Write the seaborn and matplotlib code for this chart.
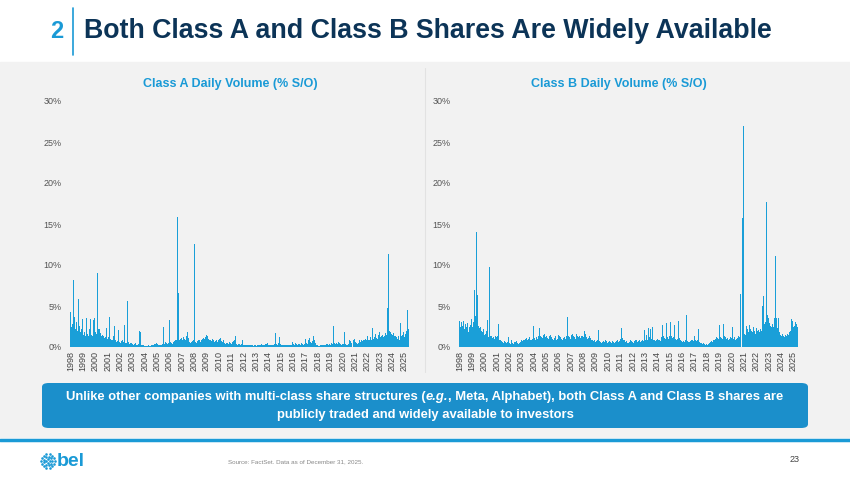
import numpy as np
import pandas as pd
import seaborn as sns
import matplotlib.pyplot as plt
from matplotlib.patches import Rectangle, FancyBboxPatch

# monthly peak daily volume, % of shares outstanding, Jan 1998 .. Dec 2025
years = [str(y) for y in range(1998, 2026)]

class_a = [
    4.3, 2.5, 2.8, 8.2, 3.7, 2.2, 3.0, 2.0, 5.8, 2.6, 1.8, 2.2,   # 1998
    3.4, 1.5, 1.8, 1.4, 3.5, 1.6, 1.3, 2.2, 3.4, 1.5, 1.4, 3.3,   # 1999
    3.5, 1.8, 1.6, 9.0, 2.2, 2.2, 1.7, 1.4, 1.5, 1.3, 1.1, 1.2,   # 2000
    2.3, 1.0, 1.2, 3.6, 1.0, 0.9, 0.8, 1.4, 2.6, 0.8, 0.6, 0.7,   # 2001
    2.1, 0.6, 0.5, 0.7, 0.8, 0.6, 2.7, 0.5, 5.6, 0.6, 0.4, 0.5,   # 2002
    0.5, 0.4, 0.3, 0.4, 0.5, 0.3, 0.3, 0.4, 1.9, 1.8, 0.3, 0.2,   # 2003
    0.2, 0.1, 0.1, 0.1, 0.1, 0.2, 0.1, 0.1, 0.2, 0.2, 0.3, 0.4,   # 2004
    0.4, 0.5, 0.4, 0.3, 0.2, 0.2, 0.3, 0.4, 2.4, 0.4, 0.6, 0.5,   # 2005
    0.4, 0.5, 3.3, 0.6, 0.5, 0.4, 0.6, 0.7, 0.9, 0.8, 15.8, 6.6,  # 2006
    0.8, 1.0, 1.1, 0.9, 1.2, 1.0, 0.9, 1.3, 1.8, 1.1, 0.6, 0.5,   # 2007
    0.6, 0.7, 0.8, 12.6, 0.6, 0.5, 0.7, 0.8, 0.9, 0.6, 0.8, 1.0,  # 2008
    1.1, 1.0, 1.2, 1.5, 1.3, 1.0, 0.9, 0.8, 0.7, 1.0, 0.8, 0.6,   # 2009
    0.7, 0.9, 0.6, 0.8, 1.0, 1.1, 0.7, 0.6, 0.8, 0.5, 0.4, 0.5,   # 2010
    0.5, 0.4, 0.6, 0.5, 0.4, 0.6, 0.7, 0.9, 1.3, 0.4, 0.3, 0.4,   # 2011
    0.3, 0.4, 0.8, 0.3, 0.2, 0.3, 0.2, 0.2, 0.3, 0.2, 0.2, 0.2,   # 2012
    0.2, 0.1, 0.2, 0.2, 0.1, 0.2, 0.2, 0.3, 0.3, 0.4, 0.3, 0.2,   # 2013
    0.3, 0.4, 0.4, 0.5, 0.3, 0.2, 0.2, 0.3, 0.2, 0.3, 0.4, 1.7,   # 2014
    0.4, 0.3, 0.5, 1.2, 0.4, 0.3, 0.2, 0.2, 0.2, 0.2, 0.3, 0.3,   # 2015
    0.3, 0.2, 0.2, 0.3, 0.6, 0.4, 0.3, 0.5, 0.4, 0.3, 0.4, 0.4,   # 2016
    0.3, 0.5, 0.4, 0.3, 0.4, 1.0, 0.5, 0.4, 0.9, 1.1, 0.6, 0.5,   # 2017
    0.7, 1.4, 0.8, 0.5, 0.3, 0.2, 0.1, 0.1, 0.2, 0.3, 0.2, 0.2,   # 2018
    0.3, 0.3, 0.4, 0.4, 0.3, 0.4, 0.3, 0.5, 0.4, 2.6, 0.5, 0.4,   # 2019
    0.5, 0.4, 0.6, 0.5, 0.4, 0.3, 0.4, 0.4, 1.8, 0.4, 0.3, 0.3,   # 2020
    0.4, 0.9, 0.7, 0.5, 0.8, 1.0, 0.6, 0.5, 0.4, 0.5, 0.8, 0.6,   # 2021
    0.8, 0.7, 0.9, 0.8, 1.0, 0.9, 1.4, 0.8, 0.9, 1.2, 0.9, 2.3,   # 2022
    1.0, 1.2, 1.6, 1.1, 1.0, 1.5, 1.8, 1.2, 1.3, 1.5, 1.2, 1.4,   # 2023
    1.7, 1.5, 4.7, 11.4, 2.0, 1.8, 1.6, 1.5, 1.7, 1.4, 1.3, 1.2,  # 2024
    1.0, 1.4, 0.8, 2.9, 1.3, 1.5, 1.8, 1.2, 1.6, 2.0, 4.5, 2.2,   # 2025
]

class_b = [
    3.2, 2.4, 3.1, 2.6, 3.2, 2.2, 2.8, 2.5, 2.9, 1.8, 2.4, 2.7,   # 1998
    3.4, 2.5, 3.0, 7.0, 3.8, 14.0, 6.3, 2.6, 2.3, 2.4, 2.0, 1.8,  # 1999
    2.2, 1.5, 1.6, 2.0, 3.3, 1.2, 9.7, 1.4, 1.3, 1.1, 1.2, 1.0,   # 2000
    1.4, 1.2, 1.3, 2.8, 0.9, 0.8, 0.7, 0.6, 0.5, 0.7, 0.6, 0.5,   # 2001
    0.6, 1.2, 0.5, 0.4, 0.8, 0.5, 0.4, 0.6, 0.7, 0.5, 0.4, 0.5,   # 2002
    0.6, 0.8, 0.7, 0.9, 0.8, 1.0, 1.1, 0.9, 1.0, 1.2, 0.8, 0.9,   # 2003
    1.0, 2.6, 1.1, 0.9, 1.2, 1.0, 1.3, 2.3, 1.4, 1.2, 1.1, 1.5,   # 2004
    1.6, 1.2, 1.4, 1.1, 1.0, 1.3, 1.5, 1.2, 1.0, 0.8, 1.1, 1.3,   # 2005
    0.9, 1.0, 1.5, 1.3, 1.2, 1.0, 0.9, 1.1, 1.2, 1.0, 1.4, 3.7,   # 2006
    1.4, 1.2, 1.0, 1.5, 1.6, 1.3, 1.2, 1.0, 1.6, 1.4, 1.2, 1.3,   # 2007
    1.1, 1.3, 1.4, 1.2, 2.0, 1.6, 1.2, 1.0, 1.1, 1.3, 1.1, 0.9,   # 2008
    0.8, 0.7, 0.9, 0.6, 0.7, 0.8, 2.1, 0.7, 0.6, 0.5, 0.6, 0.7,   # 2009
    0.6, 0.8, 0.7, 0.5, 0.6, 0.7, 0.6, 0.5, 0.7, 0.6, 0.5, 0.6,   # 2010
    0.7, 0.8, 0.6, 0.7, 1.0, 2.3, 1.1, 0.9, 0.8, 0.6, 0.7, 0.5,   # 2011
    0.6, 0.8, 0.7, 0.6, 0.5, 0.7, 0.9, 0.8, 0.6, 0.7, 0.8, 0.6,   # 2012
    0.7, 0.8, 0.7, 2.1, 0.9, 1.5, 0.8, 2.3, 1.2, 2.2, 1.0, 2.5,   # 2013
    0.9, 0.8, 0.7, 0.8, 1.0, 0.9, 0.8, 0.7, 1.2, 2.7, 1.3, 1.1,   # 2014
    1.0, 2.9, 1.2, 1.0, 1.4, 3.1, 1.3, 1.1, 1.2, 2.7, 1.0, 0.9,   # 2015
    1.0, 3.2, 1.1, 0.8, 0.7, 0.6, 0.7, 0.6, 0.8, 3.9, 0.7, 0.6,   # 2016
    0.6, 0.7, 0.8, 0.9, 0.7, 1.4, 0.8, 0.7, 0.9, 2.2, 0.6, 0.5,   # 2017
    0.5, 0.4, 0.5, 0.4, 0.3, 0.4, 0.3, 0.4, 0.5, 0.6, 0.7, 0.6,   # 2018
    0.8, 0.9, 1.0, 1.2, 1.1, 1.0, 2.7, 1.2, 1.1, 1.0, 2.8, 1.3,   # 2019
    1.2, 1.0, 1.1, 0.9, 1.0, 1.2, 1.1, 2.4, 1.0, 1.2, 0.9, 1.0,   # 2020
    1.1, 1.3, 1.2, 6.5, 15.7, 27.0, 1.6, 1.5, 2.6, 2.2, 1.8, 2.7, # 2021
    2.2, 2.0, 1.8, 2.5, 2.0, 1.6, 2.3, 1.9, 2.1, 1.8, 2.2, 2.0,   # 2022
    5.0, 6.2, 2.8, 3.0, 17.7, 3.9, 3.5, 2.9, 2.6, 2.4, 2.8, 2.5,  # 2023
    3.5, 11.1, 3.5, 2.3, 3.5, 1.8, 1.5, 1.3, 1.6, 1.4, 1.2, 1.5,  # 2024
    1.4, 1.6, 1.5, 1.8, 2.0, 3.4, 3.2, 2.4, 2.6, 3.0, 2.8, 2.5,   # 2025
]

bar_color = '#1a9fd8'
navy = '#0c3457'
light_blue = '#1a9ad6'
panel = '#f2f2f2'

sns.set_theme(style='white')
plt.rcParams['font.family'] = ['Liberation Sans', 'DejaVu Sans']

fig = plt.figure(figsize=(8.5, 4.8), dpi=100)
fig.patch.set_facecolor('white')

# grey content panel (behind the axes)
fig.patches.append(Rectangle((0, 1 - 437 / 480), 1, (437 - 62) / 480,
                             transform=fig.transFigure, color=panel, zorder=-5))
# divider between the two charts
fig.add_artist(plt.Line2D([425 / 850, 425 / 850], [1 - 372 / 480, 1 - 68 / 480],
                          transform=fig.transFigure, color='#e2e2e2', lw=0.8, zorder=-4))

# slide header
fig.text(50 / 850, 1 - 32 / 480, '2', color=light_blue, fontsize=17, fontweight='bold',
         va='center', ha='left')
fig.add_artist(plt.Line2D([73 / 850, 73 / 850], [1 - 8 / 480, 1 - 55 / 480],
                          transform=fig.transFigure, color=light_blue, lw=1.2))
fig.text(84 / 850, 1 - 31 / 480, 'Both Class A and Class B Shares Are Widely Available',
         color=navy, fontsize=19.3, fontweight='bold', va='center', ha='left')

month = np.arange(len(class_a))
charts = [
    (class_a, 'Class A Daily Volume (% S/O)', 70),
    (class_b, 'Class B Daily Volume (% S/O)', 459),
]

for values, title, left_px in charts:
    ax = fig.add_axes([left_px / 850, 1 - 347 / 480, 339 / 850, (347 - 101) / 480])
    ax.set_facecolor('none')
    df = pd.DataFrame({'month': month, 'pct': values})
    sns.barplot(data=df, x='month', y='pct', color=bar_color, saturation=1,
                width=1.0, linewidth=0, ax=ax)
    ax.set_xlim(-0.5, len(values) - 0.5)
    ax.set_ylim(0, 30)
    ax.set_yticks([0, 5, 10, 15, 20, 25, 30])
    ax.set_yticklabels([f'{v}%' for v in [0, 5, 10, 15, 20, 25, 30]],
                       fontsize=6.5, color='#555555')
    ax.set_xticks(np.linspace(0, 331, len(years)))
    ax.set_xticklabels(years, rotation=90, fontsize=6.5, color='#444444')
    ax.tick_params(axis='both', length=0)
    ax.tick_params(axis='y', pad=6)
    ax.tick_params(axis='x', pad=3)
    ax.set_xlabel('')
    ax.set_ylabel('')
    for s in ax.spines.values():
        s.set_visible(False)
    fig.text((left_px + 160) / 850, 1 - 84 / 480, title, color=light_blue,
             fontsize=9, fontweight='bold', ha='center', va='center')

# callout box
box = FancyBboxPatch((42 / 850, 1 - 428 / 480), (808 - 42) / 850, 45 / 480,
                     boxstyle='round,pad=0,rounding_size=0.008',
                     transform=fig.transFigure, facecolor='#1b8fcb', edgecolor='none')
fig.patches.append(box)

# first callout line is built from three pieces so "e.g." can be italic
renderer = fig.canvas.get_renderer()
style = dict(color='white', fontsize=9.4, fontweight='bold', va='center', ha='left')
pieces = [
    ('Unlike other companies with multi-class share structures (', 'normal'),
    ('e.g.', 'italic'),
    (', Meta, Alphabet), both Class A and Class B shares are', 'normal'),
]
y1 = 1 - 397 / 480
texts = [fig.text(0, y1, s, fontstyle=st, **style) for s, st in pieces]
widths = [t.get_window_extent(renderer).width for t in texts]
x = (425 - sum(widths) / 2) / 850
for t, w in zip(texts, widths):
    t.set_x(x)
    x += w / 850
fig.text(425 / 850, 1 - 415 / 480, 'publicly traded and widely available to investors',
         color='white', fontsize=9.4, fontweight='bold', ha='center', va='center')

# footer
fig.add_artist(plt.Line2D([0, 1], [1 - 440 / 480, 1 - 440 / 480],
                          transform=fig.transFigure, color=light_blue, lw=2.5))
icon = fig.add_axes([40 / 850, 1 - 469 / 480, 16 / 850, 16 / 480])
icon.set_aspect('equal')
icon.axis('off')
for r, n in [(0.95, 14), (0.6, 9), (0.25, 4)]:
    ang = np.linspace(0, 2 * np.pi, n, endpoint=False)
    icon.scatter(r * np.cos(ang), r * np.sin(ang), s=3.5, color=light_blue, linewidths=0)
icon.set_xlim(-1.1, 1.1)
icon.set_ylim(-1.1, 1.1)
fig.text(57 / 850, 1 - 461 / 480, 'bel', color=light_blue, fontsize=14,
         fontweight='bold', ha='left', va='center')
fig.text(228 / 850, 1 - 462 / 480, 'Source: FactSet. Data as of December 31, 2025.',
         color='#888888', fontsize=4.5, ha='left', va='center')
fig.text(800 / 850, 1 - 459 / 480, '23', color='#444444', fontsize=6.5,
         ha='right', va='center')

fig.savefig('out.png', dpi=100, facecolor='white')
